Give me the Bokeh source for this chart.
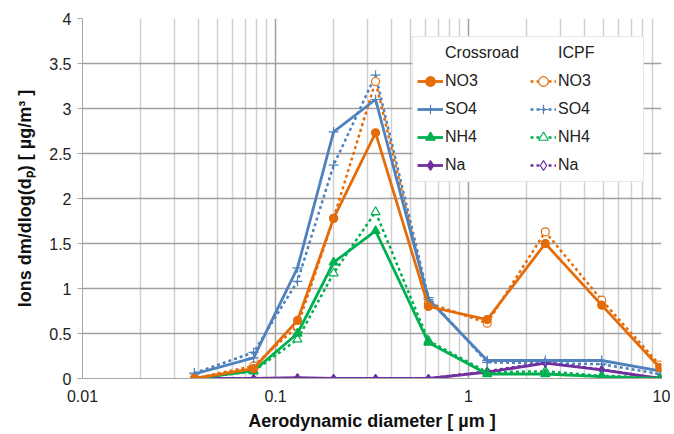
from bokeh.plotting import figure
from bokeh.models import Range1d, FixedTicker, Legend, LegendItem, Title
from bokeh.embed import file_html
from bokeh.resources import INLINE

# ---- data ----
diam = [0.038, 0.077, 0.13, 0.2, 0.33, 0.62, 1.25, 2.5, 4.9, 9.8]

cr_no3 = [0.0, 0.11, 0.645, 1.78, 2.73, 0.80, 0.655, 1.50, 0.815, 0.12]
cr_so4 = [0.05, 0.23, 1.23, 2.74, 3.10, 0.88, 0.20, 0.20, 0.20, 0.085]
cr_nh4 = [0.0, 0.085, 0.50, 1.29, 1.64, 0.40, 0.05, 0.05, 0.02, 0.0]
cr_na = [0.0, 0.0, 0.01, 0.0, 0.0, 0.0, 0.07, 0.17, 0.095, 0.0]

ic_no3 = [0.0, 0.14, 0.58, 1.78, 3.30, 0.84, 0.615, 1.63, 0.87, 0.15]
ic_so4 = [0.06, 0.29, 1.08, 2.37, 3.37, 0.90, 0.18, 0.17, 0.16, 0.05]
ic_nh4 = [0.0, 0.08, 0.435, 1.17, 1.85, 0.42, 0.07, 0.08, 0.03, 0.01]
ic_na = [0.0, 0.0, 0.0, 0.0, 0.0, 0.0, 0.08, 0.18, 0.10, 0.0]

species = ["NO3", "SO4", "NH4", "Na"]
colors = ["#E46C0A", "#4F81BD", "#00B050", "#7030A0"]
markers = ["circle", "cross", "triangle", "diamond"]
sizes = [8, 10, 9, 8]

x_ticks = [0.01, 0.1, 1, 10]
x_labels = ["0.01", "0.1", "1", "10"]
y_ticks = [0, 0.5, 1, 1.5, 2, 2.5, 3, 3.5, 4]
y_labels = ["0", "0.5", "1", "1.5", "2", "2.5", "3", "3.5", "4"]

FONT = "Liberation Sans"

p = figure(width=674, height=434, x_axis_type="log",
           x_range=Range1d(0.01, 10), y_range=Range1d(0, 4),
           output_backend="svg", toolbar_location=None,
           min_border_left=82, min_border_right=13,
           min_border_top=18, min_border_bottom=56)
p.outline_line_color = None
p.background_fill_color = "white"
p.border_fill_color = "white"

# axes
minor = []
for dec in [0.01, 0.1, 1]:
    for m in range(2, 10):
        minor.append(dec * m)
p.xaxis.ticker = FixedTicker(ticks=x_ticks, minor_ticks=minor)
p.xaxis.major_label_overrides = {t: l for t, l in zip(x_ticks, x_labels)}
p.yaxis.ticker = FixedTicker(ticks=y_ticks)
p.yaxis.major_label_overrides = {t: l for t, l in zip(y_ticks, y_labels)}

for ax in [p.xaxis[0], p.yaxis[0]]:
    ax.axis_line_color = "#A6A6A6"
    ax.major_label_text_font = FONT
    ax.major_label_text_font_size = "16px"
    ax.major_label_text_color = "#222222"
    ax.axis_label_text_font = FONT
    ax.axis_label_text_font_size = "18px"
    ax.axis_label_text_font_style = "bold"
    ax.axis_label_text_color = "#111111"
    ax.minor_tick_line_color = None

p.xaxis.major_tick_line_color = None
p.xaxis.major_tick_out = 0
p.xaxis.major_label_standoff = 7
p.yaxis.major_tick_line_color = "#A6A6A6"
p.yaxis.major_tick_out = 5
p.yaxis.major_tick_in = 0
p.yaxis.major_label_standoff = 6
p.xaxis.axis_label = "Aerodynamic diameter [ µm ]"
p.xaxis.axis_label_standoff = 6

ytitle = Title(text="Ions dm/dlog(dₚ) [ µg/m³ ]", align="center", offset=34,
               text_font=FONT, text_font_size="18px", text_font_style="bold",
               text_color="#111111", standoff=23)
p.add_layout(ytitle, "left")

p.xgrid.grid_line_color = "#A0A0A0"
p.xgrid.minor_grid_line_color = "#D0D0D0"
p.ygrid.grid_line_color = "#A0A0A0"
p.xgrid.grid_line_width = 1.5
p.ygrid.grid_line_width = 1.5
p.xgrid.minor_grid_line_width = 1.5

# header dummy renderers
hdr1 = p.line(x=[], y=[], line_alpha=0)
hdr2 = p.line(x=[], y=[], line_alpha=0)

items_cr = [LegendItem(label="Crossroad", renderers=[hdr1])]
items_ic = [LegendItem(label="ICPF", renderers=[hdr2])]

ic_data = [ic_no3, ic_so4, ic_nh4, ic_na]
cr_data = [cr_no3, cr_so4, cr_nh4, cr_na]

order = [3, 2, 1, 0]
rends_ic = {}
rends_cr = {}
for i in order:
    c = colors[i]
    l2 = p.line(diam, ic_data[i], line_color=c, line_width=2.5, line_dash="3 3", line_cap="butt")
    fill = "white" if markers[i] != "cross" else c
    s2 = p.scatter(diam, ic_data[i], marker=markers[i], size=sizes[i],
                   line_color=c, fill_color=fill, line_width=1.2)
    rends_ic[i] = [l2, s2]
for i in order:
    c = colors[i]
    l1 = p.line(diam, cr_data[i], line_color=c, line_width=2.8)
    s1 = p.scatter(diam, cr_data[i], marker=markers[i], size=sizes[i],
                   line_color=c, fill_color=c, line_width=1.2)
    rends_cr[i] = [l1, s1]

for i in range(4):
    items_cr.append(LegendItem(label=species[i], renderers=rends_cr[i]))
for i in range(4):
    items_ic.append(LegendItem(label=species[i], renderers=rends_ic[i]))

legend = Legend(items=items_cr + items_ic, location=(330, 196),
                nrows=5, orientation="vertical",
                label_text_font=FONT, label_text_font_size="16px",
                label_text_color="#222222",
                glyph_width=26, glyph_height=24, label_standoff=2,
                label_width=81, spacing=4, padding=4, margin=0,
                border_line_color="#D0D0D0", border_line_width=1.5,
                background_fill_color="white", background_fill_alpha=1.0)
p.add_layout(legend, "center")

open("out.html", "w").write(file_html(p, INLINE))
